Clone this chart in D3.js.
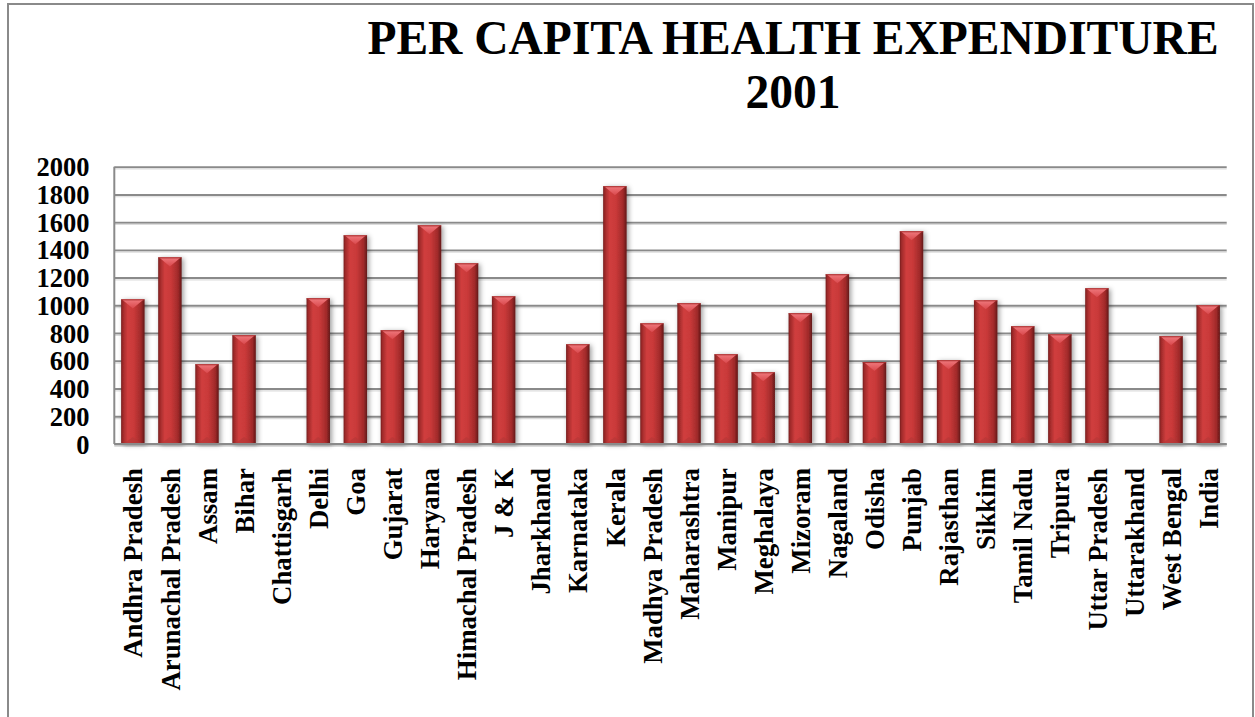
<!DOCTYPE html>
<html>
<head>
<meta charset="utf-8">
<script src="https://cdn.jsdelivr.net/npm/d3@7"></script>
<style>
  html, body { margin: 0; padding: 0; background: #ffffff; }
  svg { display: block; }
  text { font-family: "Liberation Serif", "Times New Roman", serif; font-weight: bold; fill: #000; }
</style>
</head>
<body>
<svg id="chart" width="1255" height="717"></svg>
<script>
// ---- data ----
const categories = ["Andhra Pradesh","Arunachal Pradesh","Assam","Bihar","Chattisgarh","Delhi","Goa","Gujarat","Haryana","Himachal Pradesh","J & K","Jharkhand","Karnataka","Kerala","Madhya Pradesh","Maharashtra","Manipur","Meghalaya","Mizoram","Nagaland","Odisha","Punjab","Rajasthan","Sikkim","Tamil Nadu","Tripura","Uttar Pradesh","Uttarakhand","West Bengal","India"];
const values = [1043,1346,575,784,null,1051,1505,820,1577,1303,1065,null,719,1859,870,1015,647,517,943,1224,591,1534,604,1036,849,791,1123,null,777,1000];
const yTicks = [0,200,400,600,800,1000,1200,1400,1600,1800,2000];
const titleLines = ["PER CAPITA HEALTH EXPENDITURE","2001"];

// ---- layout ----
const svg = d3.select("#chart");
const plot = {left: 114.3, right: 1226.7, top: 166.7, bottom: 444};

const x = d3.scaleBand()
  .domain(categories)
  .range([plot.left, plot.right])
  .paddingInner(0.367)
  .paddingOuter(0.1835);
const y = d3.scaleLinear().domain([0, 2000]).range([plot.bottom, plot.top]);

// outer chart border
svg.append("rect")
  .attr("x", 8).attr("y", 4).attr("width", 1245).attr("height", 740)
  .attr("fill", "#fff").attr("stroke", "#8a8a8a").attr("stroke-width", 2);

// defs
const defs = svg.append("defs");
const g1 = defs.append("linearGradient").attr("id", "barGrad").attr("x1", "0").attr("x2", "1").attr("y1", "0").attr("y2", "0");
[[0, "#761f1f"], [0.08, "#a02a2a"], [0.28, "#d03e3e"], [0.55, "#c93939"], [0.85, "#a02a2a"], [1, "#621818"]]
  .forEach(([o, c]) => g1.append("stop").attr("offset", o).attr("stop-color", c));
const g2 = defs.append("linearGradient").attr("id", "capGrad").attr("x1", "0").attr("x2", "0").attr("y1", "0").attr("y2", "1");
[[0, "#f07a7e"], [1, "#d9484c"]].forEach(([o, c]) => g2.append("stop").attr("offset", o).attr("stop-color", c));
const f = defs.append("filter").attr("id", "shadow").attr("x", "-30%").attr("y", "-10%").attr("width", "160%").attr("height", "120%");
f.append("feDropShadow").attr("dx", 2).attr("dy", 1).attr("stdDeviation", 2.4).attr("flood-color", "#000").attr("flood-opacity", 0.38);

// gridlines
const grid = svg.append("g").attr("transform", `translate(${plot.left},0)`)
  .call(d3.axisLeft(y).tickValues(yTicks).tickSize(-(plot.right - plot.left)).tickFormat(""));
grid.select(".domain").remove();
grid.selectAll(".tick line").attr("stroke", "#8a8a8a").attr("stroke-width", 2);
const gridShadow = svg.append("g").attr("transform", `translate(${plot.left},1.8)`)
  .call(d3.axisLeft(y).tickValues(yTicks).tickSize(-(plot.right - plot.left)).tickFormat(""));
gridShadow.select(".domain").remove();
gridShadow.selectAll(".tick line").attr("stroke", "#dcdcdc").attr("stroke-width", 1.2);

// left axis line
svg.append("line").attr("x1", plot.left).attr("x2", plot.left)
  .attr("y1", plot.top).attr("y2", plot.bottom)
  .attr("stroke", "#8a8a8a").attr("stroke-width", 2);

// bars
const data = categories.map((c, i) => ({c, v: values[i]})).filter(d => d.v != null);
const bw = x.bandwidth();
const bars = svg.append("g").selectAll("g.bar").data(data).join("g").attr("class", "bar");
bars.append("rect")
  .attr("x", d => x(d.c)).attr("y", d => y(d.v))
  .attr("width", bw).attr("height", d => y(0) - y(d.v))
  .attr("fill", "url(#barGrad)")
  .attr("filter", "url(#shadow)");
// top bevel (light downward triangle)
bars.append("path")
  .attr("d", d => {
    const x0 = x(d.c), t = y(d.v), h = 9;
    return `M${x0 + 1},${t} L${x0 + bw - 1},${t} L${x0 + bw / 2},${t + h} Z`;
  })
  .attr("fill", "url(#capGrad)");
bars.append("line")
  .attr("x1", d => x(d.c)).attr("x2", d => x(d.c) + bw)
  .attr("y1", d => y(d.v) + 0.5).attr("y2", d => y(d.v) + 0.5)
  .attr("stroke", "#a83030").attr("stroke-width", 1);
// bottom bevel (subtle)
bars.append("path")
  .attr("d", d => {
    const x0 = x(d.c), b = y(0), h = 7;
    return `M${x0 + 2},${b} L${x0 + bw - 2},${b} L${x0 + bw / 2},${b - h} Z`;
  })
  .attr("fill", "#b43737").attr("opacity", 0.6);

// bottom axis line
svg.append("line").attr("x1", plot.left).attr("x2", plot.right)
  .attr("y1", plot.bottom).attr("y2", plot.bottom)
  .attr("stroke", "#8a8a8a").attr("stroke-width", 2);

// y tick labels
const yAxis = svg.append("g").attr("transform", `translate(89.5,0)`)
  .call(d3.axisLeft(y).tickValues(yTicks).tickSize(0).tickPadding(0).tickFormat(d3.format("d")));
yAxis.select(".domain").remove();
yAxis.selectAll("text")
  .attr("text-anchor", "end")
  .attr("dy", "0.34em")
  .style("font-size", "26.5px")
  .style("font-family", "'Liberation Serif', 'Times New Roman', serif")
  .style("font-weight", "bold")
  .attr("fill", "#000");

// x category labels
const xAxis = svg.append("g").attr("transform", `translate(0,${plot.bottom})`)
  .call(d3.axisBottom(x).tickSize(0).tickPadding(0));
xAxis.select(".domain").remove();
xAxis.selectAll("text")
  .attr("text-anchor", "end")
  .attr("transform", "translate(0,24) rotate(-90)")
  .attr("x", 0).attr("y", 0)
  .attr("dy", "0.36em")
  .style("font-size", "26.8px")
  .style("font-family", "'Liberation Serif', 'Times New Roman', serif")
  .style("font-weight", "bold")
  .attr("fill", "#000");

// title
const title = svg.append("text").attr("text-anchor", "middle").style("font-size", "47.5px");
titleLines.forEach((t, i) => {
  title.append("tspan").attr("x", 793).attr("y", 54 + i * 54).text(t);
});
</script>
</body>
</html>
